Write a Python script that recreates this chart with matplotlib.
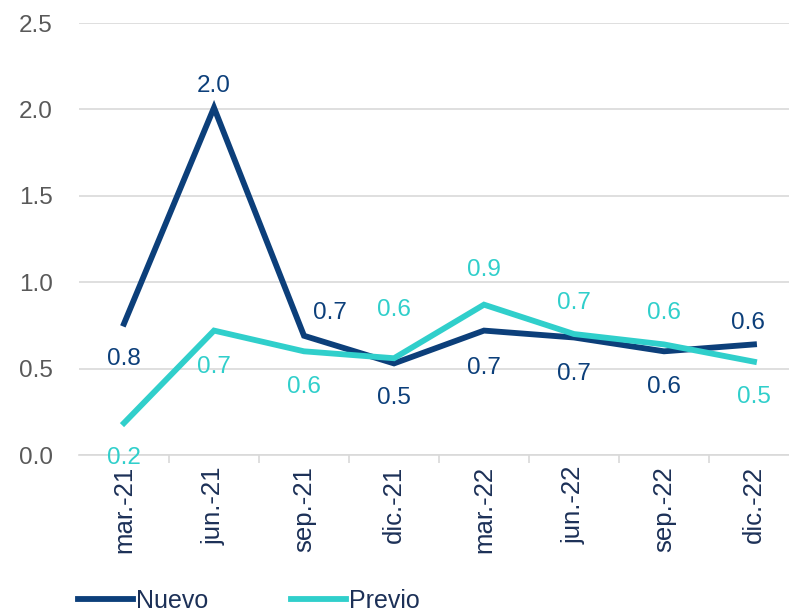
import matplotlib.pyplot as plt

periods = ['mar.-21', 'jun.-21', 'sep.-21', 'dic.-21', 'mar.-22', 'jun.-22', 'sep.-22', 'dic.-22']
nuevo = [0.76, 2.01, 0.69, 0.53, 0.72, 0.68, 0.60, 0.64]
previo = [0.185, 0.72, 0.60, 0.56, 0.87, 0.70, 0.64, 0.54]

# label placement in pixels (dx, dy) relative to each point
nuevo_off = [(0, -35), (0, 22), (26, 23), (0, -35), (0, -37), (0, -37), (0, -36), (-6, 21)]
previo_off = [(0, -35), (0, -36), (0, -36), (0, 48), (0, 35), (0, 31), (0, 31), (0, -35)]

c_nuevo = '#0c3f7a'
c_previo = '#30cfcb'
c_grid = '#d9d9d9'
c_text = '#595959'
c_dark = '#1c3057'

plt.rcParams['font.family'] = ['Liberation Sans', 'DejaVu Sans']

fig = plt.figure(figsize=(7.89, 6.14), dpi=100)
ax = fig.add_axes([79 / 789, 159 / 614, 720 / 789, 432 / 614])

x = list(range(len(periods)))
ax.plot(x, nuevo, color=c_nuevo, lw=4.2, label='Nuevo', solid_joinstyle='miter')
ax.plot(x, previo, color=c_previo, lw=4.2, label='Previo', solid_joinstyle='miter')

for i in x:
    ax.annotate(f'{nuevo[i]:.1f}', (i, nuevo[i]), xytext=nuevo_off[i], textcoords='offset pixels',
                ha='center', va='center', fontsize=17.5, color=c_nuevo)
    ax.annotate(f'{previo[i]:.1f}', (i, previo[i]), xytext=previo_off[i], textcoords='offset pixels',
                ha='center', va='center', fontsize=17.5, color=c_previo)

ax.set_xlim(-0.5, len(periods) - 0.5)
ax.set_ylim(0, 2.5)
ax.set_yticks([0, 0.5, 1.0, 1.5, 2.0, 2.5])
ax.set_yticklabels([f'{v:.1f}' for v in [0, 0.5, 1.0, 1.5, 2.0, 2.5]])
ax.grid(axis='y', color=c_grid, lw=1.2)
ax.set_axisbelow(True)
for s in ['top', 'right', 'left']:
    ax.spines[s].set_visible(False)
ax.spines['bottom'].set_color(c_grid)
ax.spines['bottom'].set_linewidth(1.2)

ax.set_xticks(x)
ax.set_xticklabels(periods, rotation=90, fontsize=18.5, color=c_dark)
ax.set_xticks([i + 0.5 for i in x[:-1]], minor=True)
ax.tick_params(axis='x', which='major', length=0, pad=8)
ax.tick_params(axis='x', which='minor', length=6, color=c_grid, width=1.2)
ax.tick_params(axis='y', length=0, pad=19, labelsize=17.5, labelcolor=c_text)

fig.legend(loc='center left', bbox_to_anchor=(78 / 789, 13 / 614), ncol=2, frameon=False,
           borderpad=0, borderaxespad=0, handlelength=2.2, handletextpad=0.12, columnspacing=3.3,
           prop={'size': 18}, labelcolor=c_dark)

fig.savefig('out.png', dpi=100)
